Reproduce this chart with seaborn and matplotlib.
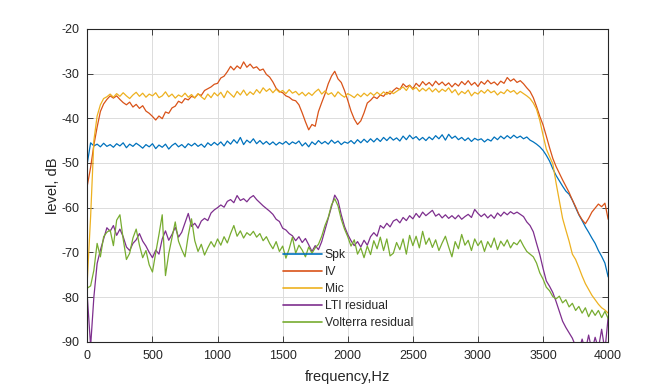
import numpy as np
import pandas as pd
import seaborn as sns
import matplotlib
matplotlib.use("Agg")
import matplotlib.pyplot as plt

freq = np.arange(0, 4001, 25)

spk = [
    -50.0, -45.5, -46.2, -45.8, -46.4, -45.6, -46.3, -45.9,
    -46.5, -45.7, -46.2, -45.5, -46.6, -45.8, -46.3, -45.6,
    -46.1, -46.7, -45.9, -46.4, -45.7, -46.8, -46.0, -46.5,
    -45.8, -46.9, -46.1, -45.6, -46.4, -45.9, -46.6, -45.7,
    -46.2, -45.6, -46.3, -45.8, -46.5, -45.5, -46.1, -45.4,
    -46.0, -45.3, -46.2, -45.1, -45.8, -44.8, -45.6, -44.3,
    -45.9, -44.9, -45.5, -44.6, -45.7, -45.0, -45.8, -45.2,
    -45.9, -45.3, -46.0, -45.4, -45.8, -45.2, -45.9, -45.3,
    -45.7, -45.1, -46.2, -45.5, -46.4, -45.3, -45.9, -45.0,
    -45.7, -45.2, -45.8, -44.9, -45.6, -45.1, -45.9, -45.3,
    -45.6, -45.0, -45.7, -44.8, -45.5, -44.7, -45.4, -44.6,
    -45.3, -44.5, -45.2, -44.3, -45.0, -44.2, -44.9, -44.4,
    -45.1, -44.0, -44.8, -43.8, -44.6, -44.1, -44.9, -44.3,
    -45.0, -44.2, -44.8, -43.9, -44.6, -43.7, -44.9, -43.6,
    -44.5, -44.0, -44.8, -44.3, -45.0, -44.4, -45.2, -44.5,
    -44.9, -44.6, -45.3, -44.7, -45.1, -44.2, -44.8, -44.0,
    -44.6, -43.9, -44.5, -43.8, -44.4, -44.0, -44.6, -44.2,
    -44.9, -45.3, -45.8, -46.4, -47.2, -48.3, -49.6, -51.3,
    -52.8, -54.0, -55.2, -56.3, -57.0, -58.3, -60.0, -61.6,
    -62.9, -64.3, -65.5, -66.8, -68.0, -69.6, -70.9, -72.4,
    -75.5,
]

iv = [
    -55.0, -51.0, -46.0, -42.0, -38.5, -36.8, -35.8, -35.0,
    -35.5, -35.0, -35.8, -36.5, -37.0, -36.4, -37.5, -36.9,
    -37.8, -37.2, -38.4, -38.9, -39.6, -40.4, -39.5, -40.1,
    -38.6, -38.9, -37.7, -37.3, -36.2, -36.6, -35.6, -35.9,
    -35.1, -35.4, -34.6, -34.9, -33.8, -33.4, -33.0, -32.4,
    -32.2, -31.0, -30.6, -29.6, -28.4, -29.2, -28.3, -28.9,
    -27.4, -28.6, -27.9, -28.8, -28.5, -29.3, -29.0, -30.2,
    -30.8, -31.9, -33.3, -34.0, -34.3, -35.0, -35.3, -35.9,
    -36.1, -37.0, -38.8, -40.8, -42.6, -41.4, -41.8, -38.5,
    -36.5, -34.6, -32.3, -30.6, -29.5, -31.2, -32.0, -33.8,
    -36.0, -38.4, -40.2, -41.4, -40.6, -38.8, -36.6, -36.0,
    -35.2, -35.6, -34.8, -35.1, -34.2, -34.6, -33.8, -33.2,
    -33.6, -32.3, -33.0, -32.6, -33.4, -32.2, -32.9, -31.8,
    -32.6, -32.0, -32.8, -31.7, -32.5, -31.9, -32.7, -32.1,
    -33.0, -32.2, -32.8, -31.8, -32.5, -31.6, -32.6, -32.0,
    -32.9, -31.8, -32.4, -31.5, -32.3, -31.9, -32.6, -31.7,
    -32.2, -30.9, -31.7, -31.2, -32.0, -31.6, -32.3, -33.2,
    -34.0, -35.4, -37.4, -39.6, -41.5, -44.0, -46.6, -49.0,
    -50.8, -52.3, -53.8, -55.2, -56.6, -58.3, -59.8, -61.5,
    -62.7, -63.6, -62.4, -61.0, -60.1, -59.2, -59.8, -59.0,
    -62.6,
]

mic = [
    -76.0, -62.0, -45.0, -39.5, -37.0, -35.6, -35.2, -34.6,
    -35.3, -34.5, -35.1, -34.3, -35.0, -35.6, -34.8, -34.2,
    -35.1, -34.4, -35.3, -34.6, -35.0, -34.3, -35.4, -35.0,
    -34.1, -35.2, -34.6, -35.5, -34.8, -35.2, -34.4, -35.3,
    -34.7, -35.5, -34.5, -35.2, -35.8, -34.6, -35.4, -34.3,
    -35.0, -34.2, -35.4, -33.9, -34.6, -35.3, -34.0, -34.8,
    -33.7, -34.9, -34.1, -34.7, -33.6, -34.4, -33.2, -34.0,
    -33.4, -34.3, -33.5, -34.2, -33.8, -34.5, -33.6, -34.4,
    -34.0, -34.8, -34.2, -35.0, -34.3, -34.9, -34.1, -33.5,
    -34.6, -33.9, -34.7, -34.3, -35.2, -34.1, -34.8, -35.3,
    -34.5, -34.9, -35.4, -34.6, -35.2, -34.4, -35.0, -34.3,
    -34.9, -34.2, -34.8, -34.1, -34.7, -33.9, -34.5, -34.0,
    -33.5, -33.0, -33.8, -32.7, -33.6, -33.1, -34.0, -33.3,
    -33.9, -33.2, -34.1, -33.4, -34.2, -33.5, -34.0, -33.2,
    -34.3, -33.6, -34.8, -34.0, -34.5, -33.7, -35.0, -34.2,
    -34.6, -33.8, -34.4, -33.6, -34.3, -33.9, -34.8, -34.1,
    -34.5, -33.6, -34.2, -33.8, -34.6, -34.0, -34.5, -35.0,
    -35.6, -36.6, -38.0, -40.5, -43.8, -46.9, -48.6, -50.2,
    -54.5, -58.5, -62.4, -65.0, -67.5, -70.4, -71.6, -73.4,
    -75.3, -77.0, -78.3, -79.6, -80.6, -81.6, -82.4, -82.9,
    -83.6,
]

lti = [
    -80.0, -91.0, -80.0, -72.5, -69.5, -67.0, -64.5, -65.3,
    -64.0, -66.2, -64.8, -66.5, -68.8, -69.6, -68.0, -67.2,
    -65.8, -67.5, -68.6, -70.0, -71.2, -69.5, -70.4, -67.0,
    -65.2, -67.3, -66.0, -64.4, -66.6, -65.5, -63.4, -61.3,
    -64.2, -63.5, -64.6, -63.0, -62.4, -62.9, -61.2, -60.5,
    -60.0, -59.4, -59.9, -58.6, -58.2, -58.9, -57.3, -58.4,
    -58.0, -58.7, -57.8, -57.3, -58.2, -58.9, -59.6, -60.2,
    -60.8, -61.5, -62.6, -63.1, -64.6, -65.0, -65.8, -66.3,
    -67.4, -66.5, -67.8, -66.9, -68.3, -69.8, -68.5, -69.4,
    -67.6, -65.0, -62.4, -59.8, -57.2, -58.4, -61.6, -64.2,
    -66.0, -67.4, -68.5, -67.6, -68.8, -67.3, -68.4, -66.5,
    -65.6, -66.4, -64.0, -64.6, -63.5, -64.3, -63.0, -62.6,
    -63.4, -62.2, -62.9, -61.8, -62.5, -61.3, -62.2, -61.0,
    -61.8, -61.2, -60.6, -61.9, -61.4, -62.3, -61.6, -62.4,
    -61.8, -62.5, -61.7, -62.6, -62.0, -61.5, -62.2, -60.4,
    -61.3, -62.0, -61.4, -62.3, -61.6, -62.4, -61.2, -61.9,
    -61.0, -61.6, -60.9, -61.4, -61.0, -61.5, -62.0, -63.2,
    -64.0, -65.4, -68.0, -70.5, -73.6, -76.4, -77.6, -79.0,
    -81.0, -83.2, -85.4, -86.8, -88.0, -89.2, -91.0, -92.0,
    -89.4, -92.0, -88.5, -92.0, -89.0, -91.5, -87.2, -92.0,
    -84.5,
]

volterra = [
    -78.0, -77.5, -74.0, -68.0, -71.0, -66.5, -65.5, -65.0,
    -68.5, -62.8, -61.6, -67.0, -71.6, -70.2, -66.8, -64.8,
    -68.4, -71.2, -69.6, -72.8, -74.4, -70.1, -66.0, -61.6,
    -75.2, -70.3, -66.8, -63.2, -67.5, -69.4, -71.0, -66.2,
    -62.5, -67.4, -69.8, -68.2, -70.6, -69.0, -67.6, -68.8,
    -67.0, -68.4, -66.5, -67.9, -65.8, -64.0, -66.4, -65.2,
    -66.8, -65.6, -66.2, -65.3, -66.6, -65.8, -67.4, -66.5,
    -68.0, -69.2, -67.6, -69.8, -68.6, -71.3, -69.2, -66.6,
    -70.2, -68.4, -69.5, -71.0, -68.8, -70.2, -69.0, -68.2,
    -66.4, -64.0, -62.2, -59.4, -58.0, -59.6, -62.6, -64.8,
    -66.5, -68.6, -67.2, -70.4, -69.0, -71.2, -68.6, -70.5,
    -67.4, -69.2, -66.6, -69.6, -67.0, -70.8, -70.2, -67.8,
    -69.4, -67.0, -70.4, -66.2, -68.5, -66.4, -69.0, -65.3,
    -68.2, -66.8, -68.9, -67.2, -69.6, -67.9, -66.4, -68.8,
    -71.0, -67.6, -69.2, -66.0, -68.4, -67.3, -69.6, -67.0,
    -68.5, -67.4, -69.8, -67.6, -68.9, -66.8, -69.4, -67.5,
    -68.6, -67.2, -69.0, -67.8, -68.3, -67.2, -68.6, -69.8,
    -70.4, -71.0, -72.4, -74.6, -76.0, -77.8, -78.6, -79.9,
    -80.4, -79.8, -81.3, -80.6, -82.2, -81.4, -83.0, -82.1,
    -83.6, -82.4, -84.4, -82.9, -84.1, -83.0, -84.6, -83.2,
    -84.8,
]

labels = ["Spk", "IV", "Mic", "LTI residual", "Volterra residual"]
colors = ["#0072BD", "#D95319", "#EDB120", "#7E2F8E", "#77AC30"]
xticks = [0, 500, 1000, 1500, 2000, 2500, 3000, 3500, 4000]
yticks = [-90, -80, -70, -60, -50, -40, -30, -20]

series = [spk, iv, mic, lti, volterra]
df = pd.concat(
    [pd.DataFrame({"freq": freq, "level": s, "name": n}) for s, n in zip(series, labels)],
    ignore_index=True,
)

sns.set_theme(style="white")
plt.rcParams["font.family"] = ["Liberation Sans", "DejaVu Sans"]
plt.rcParams["axes.unicode_minus"] = False

fig = plt.figure(figsize=(6.72, 3.84), dpi=100)
ax = fig.add_axes([0.13, 0.11, 0.775, 0.815])

sns.lineplot(data=df, x="freq", y="level", hue="name", hue_order=labels,
             palette=colors, estimator=None, sort=False, linewidth=0.9, ax=ax)

ax.set_xlim(0, 4000)
ax.set_ylim(-90, -20)
ax.set_xticks(xticks)
ax.set_yticks(yticks)
ax.grid(True, color="#dcdcdc", linewidth=0.7)
ax.set_axisbelow(True)
for sp in ax.spines.values():
    sp.set_visible(True)
    sp.set_color("#262626")
    sp.set_linewidth(0.8)
ax.tick_params(direction="in", length=4, width=0.6, colors="#262626",
               labelsize=9, top=True, right=True, bottom=True, left=True,
               labelcolor="#262626")
ax.tick_params(axis="x", pad=6)
ax.tick_params(axis="y", pad=6)
ax.set_xlabel("frequency,Hz", fontsize=10.5, color="#262626", labelpad=6)
ax.set_ylabel("level, dB", fontsize=10.5, color="#262626", labelpad=1)

leg = ax.legend(loc="upper left", bbox_to_anchor=(0.376, 0.295), frameon=False,
                fontsize=8.7, handlelength=3.2, labelspacing=0.41, handletextpad=0.25,
                borderaxespad=0, borderpad=0)
for h in leg.get_lines():
    h.set_linewidth(1.2)

fig.savefig("out.png", dpi=100)
